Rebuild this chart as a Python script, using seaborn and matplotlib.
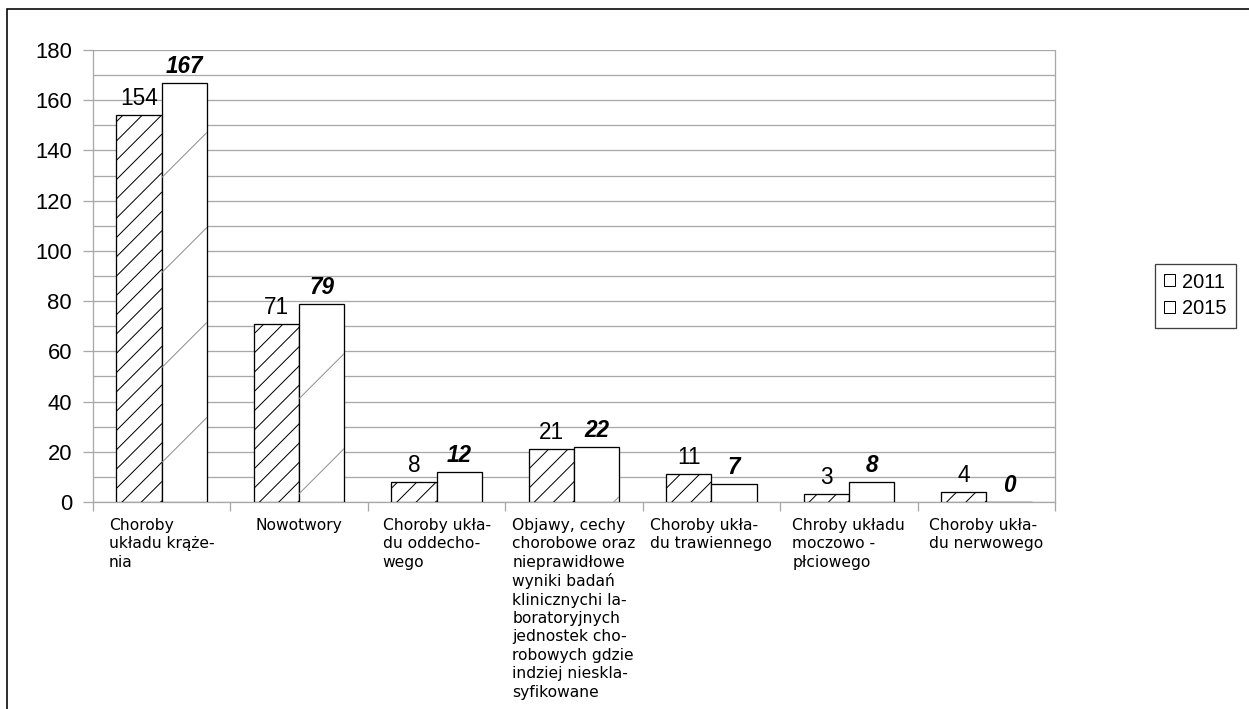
import numpy as np
import pandas as pd
import matplotlib
matplotlib.use("Agg")
import matplotlib.pyplot as plt
import seaborn as sns
from matplotlib.lines import Line2D
from matplotlib.patches import Rectangle, Patch
from matplotlib.ticker import MultipleLocator
from matplotlib.transforms import IdentityTransform

# --- data -------------------------------------------------------------
categories = [
    "Choroby\nukładu krąże-\nnia",
    "Nowotwory",
    "Choroby ukła-\ndu oddecho-\nwego",
    "Objawy, cechy\nchorobowe oraz\nnieprawidłowe\nwyniki badań\nklinicznychi la-\nboratoryjnych\njednostek cho-\nrobowych gdzie\nindziej nieskla-\nsyfikowane",
    "Choroby ukła-\ndu trawiennego",
    "Chroby układu\nmoczowo -\npłciowego",
    "Choroby ukła-\ndu nerwowego",
]
years = ["2011", "2015"]
values_2011 = [154, 71, 8, 21, 11, 3, 4]
values_2015 = [167, 79, 12, 22, 7, 8, 0]
y_ticks = [0, 20, 40, 60, 80, 100, 120, 140, 160, 180]

df = pd.DataFrame({
    "kat": categories * 2,
    "rok": [years[0]] * len(categories) + [years[1]] * len(categories),
    "liczba": values_2011 + values_2015,
})

# --- style ------------------------------------------------------------
sns.set_style("white")
plt.rcParams["font.family"] = ["Liberation Sans", "DejaVu Sans"]
plt.rcParams["text.color"] = "black"
plt.rcParams["xtick.labelcolor"] = "black"
plt.rcParams["ytick.labelcolor"] = "black"
plt.rcParams["hatch.linewidth"] = 1.0
plt.rcParams["hatch.color"] = "black"

# at 72 dpi one point equals one pixel
DPI = 72
W, H = 1249, 709
fig = plt.figure(figsize=(W / DPI, H / DPI), dpi=DPI)
ax = fig.add_axes([93 / W, 1 - 502 / H, (1055 - 93) / W, (502 - 50) / H])

grid_c = "#a8a8a8"

sns.barplot(
    data=df, x="kat", y="liczba", hue="rok", order=categories, hue_order=years,
    palette={"2011": "white", "2015": "white"}, edgecolor="black",
    linewidth=1.3, width=0.66, gap=0, legend=False, ax=ax, zorder=3,
)

# axes limits and ticks
ax.set_xlim(-0.5, len(categories) - 0.5)
ax.set_ylim(0, 180)
ax.set_yticks(y_ticks)
ax.yaxis.set_minor_locator(MultipleLocator(10))
ax.grid(False)
ax.yaxis.grid(True, which="both", color=grid_c, linewidth=1.3)
ax.set_axisbelow(True)
ax.set_xlabel("")
ax.set_ylabel("")

ax.tick_params(axis="y", which="major", length=10, width=1.3, color=grid_c,
               pad=11, labelsize=22, direction="out", left=True)
ax.tick_params(axis="y", which="minor", length=0)
ax.set_xticks(np.arange(-0.5, len(categories), 1.0), minor=True)
ax.tick_params(axis="x", which="minor", length=9, width=1.3, color=grid_c,
               direction="out", bottom=True)
ax.tick_params(axis="x", which="major", length=0, pad=16)
for lab in ax.get_xticklabels():
    lab.set_fontfamily(["DejaVu Sans"])
    lab.set_fontsize(15.5)
    lab.set_horizontalalignment("center")
    lab.set_multialignment("left")
    lab.set_verticalalignment("top")
    lab.set_linespacing(1.28)

for side in ["left", "right", "bottom"]:
    ax.spines[side].set_color(grid_c)
    ax.spines[side].set_linewidth(1.3)
ax.spines["top"].set_visible(False)

# value labels
ax.bar_label(ax.containers[0], labels=[str(v) for v in values_2011],
             padding=5, fontsize=22.5, zorder=4)
ax.bar_label(ax.containers[1], labels=[str(v) for v in values_2015],
             padding=5, fontsize=22.5, fontweight="bold", fontstyle="italic",
             zorder=4)

# legend
handles = [
    Patch(facecolor="white", edgecolor="black", linewidth=1.0, hatch="/"),
    Patch(facecolor="white", edgecolor="black", linewidth=1.0),
]
ax.legend(
    handles, years,
    loc="center left", bbox_to_anchor=(1155 / W, 1 - 295.5 / H),
    bbox_transform=fig.transFigure, borderaxespad=0, fancybox=False,
    edgecolor="#404040", framealpha=1, fontsize=20, handlelength=0.55,
    handleheight=0.55, handletextpad=0.35, borderpad=0.45, labelspacing=0.4,
)
ax.get_legend().get_frame().set_linewidth(1.3)

# outer frame
fig.patches.append(Rectangle((7 / W, -0.05), 1.1, 1 - 9 / H + 0.05,
                             transform=fig.transFigure, fill=False,
                             edgecolor="black", linewidth=1.6))


def diagonal_lines(bar, offsets, color, lw):
    """Draw 45-degree lines across a bar, clipped to its outline.

    Each offset is the height (in pixels, from the bar's bottom edge) where
    a line crosses the bar's left side.
    """
    bb = bar.get_window_extent()
    for d in offsets:
        ln = Line2D([bb.x0, bb.x1], [bb.y0 + d, bb.y0 + d + bb.width],
                    transform=IdentityTransform(), color=color,
                    linewidth=lw, zorder=3.5)
        ax.add_artist(ln)
        ln.set_clip_path(bar)


fig.canvas.draw()

# dense black diagonal hatching for 2011
for bar in ax.containers[0]:
    bb = bar.get_window_extent()
    diagonal_lines(bar, np.arange(-bb.width + 1, bb.height, 19.3), "black", 1.0)

# sparse grey diagonal texture for 2015, anchored at each bar's top-left
for bar in ax.containers[1]:
    bb = bar.get_window_extent()
    diagonal_lines(bar, np.arange(bb.height - 95, -bb.width, -95), "#8f8f8f", 1.0)

fig.savefig("out.png", dpi=DPI)
